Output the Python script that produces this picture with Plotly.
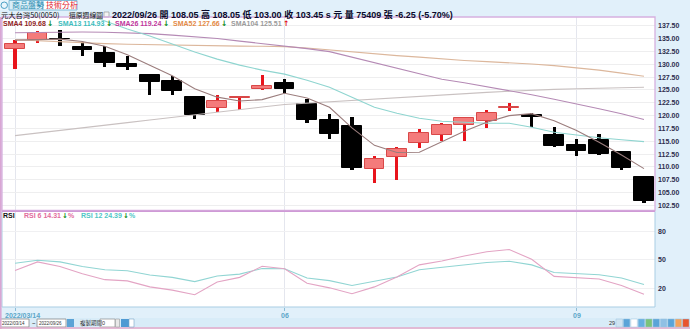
import plotly.graph_objects as go

# ---------------- data ----------------
dates = ["2022-03-14", "2022-03-21", "2022-03-28", "2022-04-04", "2022-04-11", "2022-04-18",
         "2022-04-25", "2022-05-02", "2022-05-09", "2022-05-16", "2022-05-23", "2022-05-30",
         "2022-06-06", "2022-06-13", "2022-06-20", "2022-06-27", "2022-07-04", "2022-07-11",
         "2022-07-18", "2022-07-25", "2022-08-01", "2022-08-08", "2022-08-15", "2022-08-22",
         "2022-08-29", "2022-09-05", "2022-09-12", "2022-09-19", "2022-09-26"]
opens = [132.9, 134.75, 135.0, 133.35, 132.15, 130.1, 128.0, 126.65, 123.6, 121.5,
         123.35, 125.2, 126.3, 122.25, 119.15, 118.05, 109.6, 112.0, 114.65, 116.3,
         118.25, 119.0, 121.4, 120.2, 116.3, 114.25, 115.3, 113.0, 108.05]
highs = [134.65, 136.4, 136.6, 134.3, 133.65, 131.6, 128.0, 127.8, 123.6, 124.1,
         123.9, 128.0, 127.15, 123.15, 120.3, 119.7, 112.2, 113.95, 117.3, 118.5,
         119.7, 121.1, 122.4, 120.45, 117.75, 115.45, 116.4, 113.2, 108.05]
lows = [129.1, 134.2, 133.5, 131.7, 129.55, 128.8, 124.1, 124.1, 119.35, 120.65,
        121.0, 125.0, 124.35, 118.55, 115.45, 109.45, 106.85, 107.5, 113.6, 115.1,
        115.1, 117.5, 120.85, 117.75, 113.8, 112.2, 112.4, 109.45, 103.0]
closes = [134.0, 136.05, 134.95, 132.7, 130.3, 129.45, 126.6, 124.75, 120.2, 122.8,
          123.6, 125.85, 125.2, 119.05, 116.4, 109.8, 111.55, 113.5, 116.6, 118.15,
          119.5, 120.6, 121.75, 119.65, 114.0, 113.05, 112.5, 109.7, 103.45]

sma4 = [134.7, 134.85, 134.9, 134.43, 133.5, 131.85, 129.76, 127.78, 125.25, 123.59,
        122.84, 123.11, 124.36, 123.43, 121.63, 117.61, 114.2, 112.81, 112.86, 114.95,
        116.94, 118.71, 120.0, 120.38, 119.0, 117.11, 114.8, 112.31, 109.68]
sma13 = [142.9, 141.73, 140.76, 139.98, 138.42, 136.86, 135.49, 133.93, 132.37, 131.0,
         129.83, 128.85, 128.07, 126.9, 125.53, 123.58, 121.63, 120.46, 119.48, 118.9,
         118.7, 118.5, 118.5, 117.72, 116.75, 116.16, 115.68, 115.29, 114.93]
sma26 = [136.14, 136.21, 136.27, 136.27, 136.23, 136.12, 135.96, 135.68, 135.39, 135.0,
         134.51, 134.02, 133.63, 133.04, 132.46, 131.39, 130.22, 129.14, 128.07, 127.09,
         126.41, 125.63, 124.95, 124.07, 123.19, 122.31, 121.34, 120.36, 119.24]
sma52 = [134.77, 134.55, 134.36, 134.18, 134.02, 133.89, 133.79, 133.69, 133.61, 133.56,
         133.52, 133.5, 133.44, 133.15, 132.76, 132.37, 132.01, 131.68, 131.39, 131.04,
         130.74, 130.51, 130.32, 130.06, 129.73, 129.34, 128.85, 128.27, 127.66]
sma104 = [116.11, 116.59, 117.08, 117.63, 118.14, 118.64, 119.15, 119.68, 120.18, 120.69,
          121.14, 121.67, 122.16, 122.43, 122.68, 122.96, 123.23, 123.52, 123.8, 124.09,
          124.3, 124.52, 124.73, 124.95, 125.1, 125.24, 125.36, 125.43, 125.51]

rsi6 = [39.1, 47.95, 43.2, 35.7, 29.5, 28.2, 22.0, 18.6, 13.8, 27.1,
        31.9, 43.5, 40.8, 25.8, 21.0, 14.9, 22.0, 32.3, 44.9, 49.0,
        54.1, 58.5, 60.9, 50.7, 32.9, 31.2, 30.2, 23.4, 14.31]
rsi12 = [46.6, 49.7, 48.0, 43.2, 39.8, 38.7, 34.3, 31.9, 27.5, 33.3,
         35.3, 41.1, 40.8, 31.2, 28.5, 23.4, 27.8, 32.3, 39.8, 42.2,
         44.9, 47.3, 48.6, 44.9, 37.0, 35.7, 34.6, 31.2, 24.39]

price_ticks = [102.5, 105.0, 107.5, 110.0, 112.5, 115.0, 117.5, 120.0, 122.5, 125.0,
               127.5, 130.0, 132.5, 135.0, 137.5]
price_tick_text = ["102.50", "105.00", "107.50", "110.00", "112.50", "115.00", "117.50",
                   "120.00", "122.50", "125.00", "127.50", "130.00", "132.50", "135.00", "137.50"]
rsi_ticks = [20, 50, 80]
rsi_tick_text = ["20", "50", "80"]
x_tick_dates = ["2022-03-14", "2022-06-06", "2022-09-05"]
x_tick_text = ["2022/03/14", "06", "09"]

# ---------------- geometry helpers ----------------
W, H = 690, 329
ML, MR, MT, MB = 2, 35, 17, 22
PW, PH = W - ML - MR, H - MT - MB


def px(x):
    return (x - ML) / PW


def py(y):
    return (H - MB - y) / PH


SANS = "Liberation Sans, Noto Sans CJK TC"
CJK = "Noto Sans CJK TC"

up = [c >= o for o, c in zip(opens, closes)]
wick_col = ["#e8141c" if u else "#000000" for u in up]
body_fill = ["#f47b7b" if u else "#000000" for u in up]
body_line = ["#d94848" if u else "#000000" for u in up]

fig = go.Figure()

fig.add_trace(go.Bar(x=dates, y=[h - l for h, l in zip(highs, lows)], base=lows,
                     width=0.14, marker=dict(color=wick_col, line=dict(width=0)),
                     xaxis="x", yaxis="y", hoverinfo="skip"))
fig.add_trace(go.Bar(x=dates, y=[max(abs(c - o), 0.04) for o, c in zip(opens, closes)],
                     base=[min(o, c) for o, c in zip(opens, closes)],
                     width=0.88, marker=dict(color=body_fill, line=dict(color=body_line, width=1)),
                     xaxis="x", yaxis="y", hoverinfo="skip"))

for vals, col in [(sma104, "#c9c1c1"), (sma52, "#dcb79c"), (sma26, "#b58ab5"),
                  (sma13, "#8fd5d0"), (sma4, "#9b7d7d")]:
    fig.add_trace(go.Scatter(x=dates, y=vals, mode="lines", line=dict(color=col, width=1.1),
                             xaxis="x", yaxis="y", hoverinfo="skip"))

fig.add_trace(go.Scatter(x=dates, y=rsi12, mode="lines", line=dict(color="#91d5d3", width=1.1),
                         xaxis="x2", yaxis="y2", hoverinfo="skip"))
fig.add_trace(go.Scatter(x=dates, y=rsi6, mode="lines", line=dict(color="#e3a4c4", width=1.1),
                         xaxis="x2", yaxis="y2", hoverinfo="skip"))

ann = []


def txt(x, y, s, color="#000000", size=8, bold=False, anchor="left", family=SANS):
    ann.append(dict(x=px(x), y=py(y), xref="paper", yref="paper", text=s, showarrow=False,
                    xanchor=anchor, yanchor="middle", borderpad=0,
                    font=dict(family=family, size=size, color=color,
                              weight="bold" if bold else "normal")))


# header tabs
txt(11, 5, "商品盤勢", "#2f8fb0", 8, False, family=CJK)
txt(45, 5, "技術分析", "#e0162b", 8, False, family=CJK)
# header info line
txt(0, 14.5, "元大台灣50(0050)", "#111111", 7.3, family=CJK)
txt(68, 14.5, "還原週線圖", "#111111", 6.8, family=CJK)
txt(111, 14.5, "<b>2022/09/26 開 108.05 高 108.05 低 103.00 收 103.45 s 元 量 75409 張 -6.25 (-5.70%)</b>",
    "#0a0a2a", 9.0)

# SMA legend
legend = [(2, "SMA4 109.68", "#8e2222", "↓", "#0a8a1a"),
          (57, "SMA13 114.93", "#3bbdbd", "↓", "#0a8a1a"),
          (114, "SMA26 119.24", "#c0359c", "↓", "#0a8a1a"),
          (172, "SMA52 127.66", "#e48a45", "↓", "#0a8a1a"),
          (230, "SMA104 125.51", "#9a9a9a", "↑", "#e0101a")]
for x0, s, c, arr, ac in legend:
    txt(x0, 23, s, c, 7, True)
    txt(x0 + 3.95 * len(s) + 1, 23, arr, ac, 7.5, True, family="DejaVu Sans")

# RSI legend
txt(2, 215.5, "RSI", "#111111", 7, True)
txt(23, 215.5, "RSI 6 14.31", "#e26c9c", 7, True)
txt(61, 215.5, "↓", "#0a8a1a", 7, True, family="DejaVu Sans")
txt(67, 215.5, "%", "#e26c9c", 7, True)
txt(80, 215.5, "RSI 12 24.39", "#4fc6c6", 7, True)
txt(122, 215.5, "↓", "#0a8a1a", 7, True, family="DejaVu Sans")
txt(128, 215.5, "%", "#4fc6c6", 7, True)

# x tick labels (placed at category positions)
for d, t in zip(x_tick_dates, x_tick_text):
    first = d == x_tick_dates[0]
    ann.append(dict(x=d, y=py(315), xref="x2", yref="paper", text=t, showarrow=False,
                    xanchor="left" if first else "center", xshift=-12 if first else 0,
                    yanchor="middle", font=dict(family=SANS, size=7, color="#5ba6c8",
                                                weight="bold")))

# bottom control bar texts
txt(1, 323, "2022/03/14", "#333333", 4.5)
txt(38, 323, "2022/09/26", "#333333", 4.5)
txt(31, 323, "~", "#333333", 6)
txt(79, 323, "複製期間", "#333333", 5.5, family=CJK)
txt(101, 323, "0", "#333333", 5.5)
txt(608, 323, "29", "#333333", 5.5)

shapes = []


def rect(x0, y0, x1, y1, fill=None, line=None, lw=1, layer="above"):
    shapes.append(dict(type="rect", xref="paper", yref="paper", x0=px(x0), x1=px(x1),
                       y0=py(y1), y1=py(y0), fillcolor=fill or "rgba(0,0,0,0)",
                       line=dict(color=line or "rgba(0,0,0,0)", width=lw if line else 0),
                       layer=layer))


# header tabs shapes
rect(-2, 0, 9, 10, "#eaf5fc", None, layer="below")
shapes.append(dict(type="circle", xref="paper", yref="paper", x0=px(1), x1=px(7.5),
                   y0=py(8.5), y1=py(2), line=dict(color="#4a9fc4", width=1)))
rect(9, 0.5, 43, 10, "#d9eef9", "#7fbad6", 1, layer="below")
rect(43, 0.5, 77, 10, "#ffffff", "#7fbad6", 1, layer="below")
# small checkbox in the header line
rect(104, 12, 109, 17, "#f4f4f4", "#9a9a9a", 0.7)

# plot borders
rect(2, 17, 655, 210.5, None, "#d6b0df", 1.3)
rect(2, 211.5, 655, 307, None, "#a9cde3", 1)
shapes.append(dict(type="line", xref="paper", yref="paper", x0=px(2), x1=px(655),
                   y0=py(211.3), y1=py(211.3), line=dict(color="#cf9ad6", width=1.6)))
shapes.append(dict(type="line", xref="paper", yref="paper", x0=px(0.8), x1=px(0.8),
                   y0=py(329), y1=py(17), line=dict(color="#d9a6d4", width=1.6)))

# bottom control bar
rect(0, 318, 690, 327.5, "#d8ecf8", None, layer="below")
shapes.append(dict(type="line", xref="paper", yref="paper", x0=px(0), x1=px(690),
                   y0=py(328), y1=py(328), line=dict(color="#e3a9c8", width=1.5)))
rect(0.5, 319, 29, 327, "#ffffff", "#8a8a8a", 0.8, layer="below")
rect(37, 319, 66, 327, "#ffffff", "#8a8a8a", 0.8, layer="below")
rect(67, 319, 74, 327, "#5ba3d6", None)
rect(100, 319, 115, 327, "#ffffff", "#9a9a9a", 0.8, layer="below")
rect(115.5, 319, 119.5, 327, "#e8e8e8", "#9a9a9a", 0.6)
rect(121, 319, 129, 327, "#4f9ad3", None)
rect(129, 319, 134, 327, "#ffffff", "#7aa6c8", 0.6)
icons = ["#cfe3f1", "#5aa4d8", "#ffffff", "#66b0e0", "#7cc37a", "#5aa4d8", "#8fc0e4",
         "#5aa4d8", "#f5a25a", "#e8542e"]
for i, c in enumerate(icons):
    rect(616 + i * 7.4, 319, 622.5 + i * 7.4, 327, c, "#9ec7e0", 0.5)

fig.update_layout(
    width=W, height=H,
    margin=dict(l=ML, r=MR, t=MT, b=MB, pad=0),
    paper_bgcolor="#e1f0fa", plot_bgcolor="#ffffff",
    showlegend=False, barmode="overlay", bargap=0,
    annotations=ann, shapes=shapes,
    xaxis=dict(type="category", domain=[0, 1], anchor="y", range=[-0.58, 28.49],
               showticklabels=False, ticks="", tickvals=x_tick_dates, showgrid=True,
               gridcolor="#e4e6ee", gridwidth=1, zeroline=False, showline=False, fixedrange=True),
    xaxis2=dict(type="category", domain=[0, 1], anchor="y2", matches="x", range=[-0.58, 28.49],
                showticklabels=False, ticks="outside", ticklen=3, tickcolor="#8cbcd6",
                tickvals=x_tick_dates, showgrid=True, gridcolor="#e4e6ee", zeroline=False,
                showline=False),
    yaxis=dict(domain=[py(210.5), 1], anchor="x", side="right", range=[101.52, 139.2],
               tickvals=price_ticks, ticktext=price_tick_text, ticks="", showgrid=True,
               gridcolor="#eeeeef", zeroline=False, showline=False, ticklabelstandoff=2,
               tickfont=dict(family="Liberation Sans", size=7, color="#2d2d4d", weight="bold")),
    yaxis2=dict(domain=[0, py(211.5)], anchor="x2", side="right", range=[1.07, 100.4],
                tickvals=rsi_ticks, ticktext=rsi_tick_text, ticks="", showgrid=True,
                gridcolor="#f0f0f2", zeroline=False, showline=False, ticklabelstandoff=2,
                tickfont=dict(family="Liberation Sans", size=7, color="#2d2d4d", weight="bold")),
)

fig.write_html("out.html")
